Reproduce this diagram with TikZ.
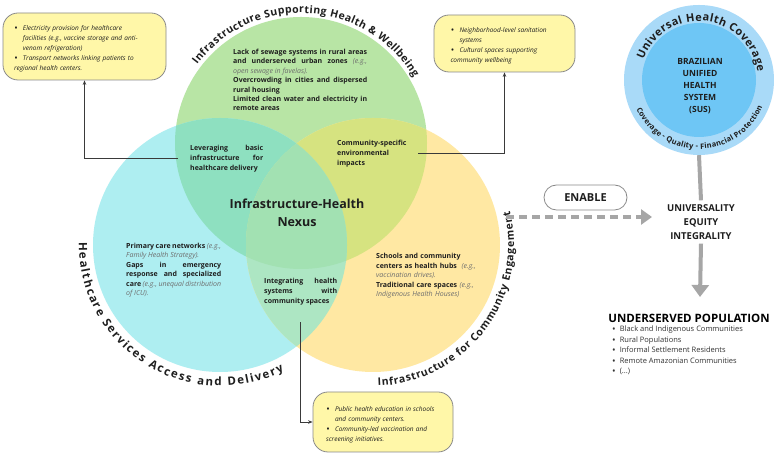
\documentclass[tikz,border=0pt]{standalone}
\usepackage{fontspec}
\setmainfont{Open Sans}
\usetikzlibrary{decorations.text,calc,arrows.meta}
\definecolor{cgreen}{HTML}{B8E5A5}
\definecolor{ccyan}{HTML}{AEEEF1}
\definecolor{cyellow}{HTML}{FFE8A3}
\definecolor{cgc}{HTML}{8EE0C0}
\definecolor{cgy}{HTML}{D6E380}
\definecolor{ccy}{HTML}{ADE6C3}
\definecolor{ctri}{HTML}{A2E1B2}
\definecolor{txt}{HTML}{1E1E1E}
\definecolor{egray}{HTML}{6E6E6E}
\definecolor{boxfill}{HTML}{FFF7A8}
\definecolor{boxline}{HTML}{8A8A8A}
\definecolor{connc}{HTML}{3A3A3A}
\definecolor{garr}{HTML}{A6A6A6}
\definecolor{uhcout}{HTML}{A9DAF8}
\definecolor{uhcin}{HTML}{6EC6F5}
\newcommand\eg[1]{{\mdseries\itshape\color{egray}#1}}
\newcommand\bigbul{\raisebox{-1.1pt}{\fontsize{9.5}{9.5}\selectfont\textbullet}}
\newcommand\bitem[1]{\par\hangindent=9pt\hangafter=1\noindent\makebox[9pt][l]{\bigbul}#1}
\begin{document}
\begin{tikzpicture}[x=1pt,y=1pt,
  box/.style={draw=boxline, fill=boxfill, rounded corners=15pt, line width=0.8pt, align=left,
    font=\itshape\fontsize{6.5}{10}\selectfont, text=txt, inner sep=0pt},
  conn/.style={draw=connc, line width=0.8pt, -{Stealth[length=4.5pt,width=3.5pt]}},
  body/.style={inner sep=0pt, anchor=north west, font=\bfseries\fontsize{7}{9.4}\selectfont, text=txt},
  arclabel/.style={decorate, decoration={text along path, text color=txt, text align={fit to path}}},
  garrow/.style={draw=garr, line width=4pt},
]
\useasboundingbox (0,0) rectangle (774,454);
\fill[white] (0,0) rectangle (774,454);

% ---------- Venn circles ----------
\coordinate (gc) at (301,311);
\coordinate (cc) at (220,209);
\coordinate (yc) at (373,209);
\fill[cgreen] (gc) circle[radius=126pt];
\fill[ccyan] (cc) circle[radius=127pt];
\fill[cyellow] (yc) circle[radius=127pt];
\begin{scope}
  \clip (gc) circle[radius=126pt];
  \fill[cgc] (cc) circle[radius=127pt];
  \fill[cgy] (yc) circle[radius=127pt];
\end{scope}
\begin{scope}
  \clip (cc) circle[radius=127pt];
  \fill[ccy] (yc) circle[radius=127pt];
  \clip (gc) circle[radius=126pt];
  \fill[ctri] (yc) circle[radius=127pt];
\end{scope}

% ---------- arc labels ----------
\path[arclabel, decoration={text={|\bfseries\fontsize{10.5}{12}\selectfont|Infrastructure Supporting Health {\&} Wellbeing}}]
  ($(gc)+(143:130pt)$) arc[start angle=143, end angle=30, radius=130pt];
\path[arclabel, decoration={text={|\bfseries\fontsize{11.5}{13}\selectfont|Healthcare Services Access and Delivery}}]
  ($(cc)+(179:141pt)$) arc[start angle=179, end angle=297, radius=141pt];
\path[arclabel, decoration={text={|\bfseries\fontsize{10.5}{12}\selectfont|Infrastructure for Community Engagement}}]
  ($(yc)+(-88:141pt)$) arc[start angle=-88, end angle=14, radius=141pt];

% ---------- Venn texts ----------
\node[body, text width=134pt, align=justify, font=\bfseries\fontsize{7}{9.4}\selectfont] (tg) at (233,405)
 {Lack of sewage systems in rural areas\linebreak and underserved urban zones \eg{(e.g.,\linebreak open sewage in favelas).}\par
  Overcrowding in cities and dispersed\linebreak rural housing\par
  Limited clean water and electricity in\linebreak remote areas};
\node[body, text width=73pt, align=justify, font=\bfseries\fontsize{7}{10}\selectfont] (t1) at (190,309)
 {Leveraging basic\linebreak infrastructure for\linebreak healthcare delivery};
\node[body, text width=80pt, align=left, font=\bfseries\fontsize{7}{10}\selectfont] (t2) at (337,314)
 {Community-specific\\ environmental\\ impacts};
\node[body, align=center, anchor=center, font=\bfseries\fontsize{12.5}{18}\selectfont] (nexus) at (297,241)
 {Infrastructure-Health\\ Nexus};
\node[body, text width=95pt, align=justify, font=\bfseries\fontsize{7}{9.4}\selectfont] (tc) at (126,211)
 {Primary care networks \eg{(e.g.,\linebreak Family Health Strategy).}\par
  Gaps in emergency\linebreak response and specialized\linebreak care \eg{(e.g., unequal distribution\linebreak of ICU).}};
\node[body, text width=73pt, align=justify, font=\bfseries\fontsize{7}{10}\selectfont] (t3) at (264,176)
 {Integrating health\linebreak systems with\linebreak community spaces};
\node[body, text width=100pt, align=left, font=\bfseries\fontsize{7}{9.6}\selectfont] (ty) at (376,201)
 {Schools and community\\ centers as health hubs\ \ \eg{(e.g.,}\\ \eg{vaccination drives).}\\ Traditional care spaces \eg{(e.g.,}\\ \eg{Indigenous Health Houses)}};

% ---------- yellow boxes ----------
\node[box, minimum width=163pt, minimum height=67pt, text width=141pt] (b1) at (84.5,407.5)
 {\bitem{Electricity provision for healthcare\newline facilities (e.g., vaccine storage and anti-\newline venom refrigeration)}%
  \bitem{Transport networks linking patients to\newline regional health centers.}};
\node[box, minimum width=141pt, minimum height=57pt, text width=108pt] (b2) at (504.5,410.5)
 {\bitem{Neighborhood-level sanitation\newline systems}%
  \bitem{Cultural spaces supporting\newline community wellbeing}};
\node[box, minimum width=140pt, minimum height=60pt, text width=114pt] (b3) at (383,32)
 {\bitem{Public health education in schools\newline and community centers.}%
  \bitem{Community-led vaccination and\newline screening initiatives.}};

\draw[conn] ([xshift=-12pt]t1.west) -| (b1.south);
\draw[conn] ([xshift=1pt]t2.east) -| (b2.south);
\draw[conn] ([yshift=-17pt]t3.south) |- (b3.west);

% ---------- UHC ----------
\coordinate (uc) at (699,374);
\node[circle, fill=uhcout, minimum size=150pt, inner sep=0pt] (uhc) at (uc) {};
\node[circle, fill=uhcin, minimum size=114pt, inner sep=0pt] (sus) at (uc) {};
\node[align=center, font=\bfseries\fontsize{8.5}{12}\selectfont, text=txt] (susT) at (700,368)
 {BRAZILIAN\\ UNIFIED\\ HEALTH\\ SYSTEM\\ (SUS)};
\path[arclabel, decoration={text={|\bfseries\fontsize{11}{12}\selectfont|Universal Health Coverage}}]
  ($(uc)+(160:59pt)$) arc[start angle=160, end angle=8, radius=59pt];
\path[arclabel, decoration={text={|\bfseries\fontsize{7.5}{9}\selectfont|Coverage - Quality - Financial Protection}}]
  ($(uc)+(205:69pt)$) arc[start angle=205, end angle=337, radius=69pt];

\node[align=center, font=\bfseries\fontsize{9.5}{14}\selectfont, text=txt, inner sep=4pt] (univ) at (701,232)
 {UNIVERSALITY\\ EQUITY\\ INTEGRALITY};
\draw[garrow] (uhc.south) -- (univ.north);
\coordinate (tip) at (700,157);
\draw[garrow, -{Triangle[length=12pt,width=17pt]}] (univ.south) -- (tip);

\node[draw=boxline, line width=0.8pt, fill=white, rounded corners=12.5pt, minimum width=83pt, minimum height=25pt,
  font=\bfseries\fontsize{11}{12}\selectfont, text=txt] (enable) at (585.5,256.5) {ENABLE};
\coordinate (dstart) at (506,237);
\coordinate (dend) at (652,237);
\draw[draw=garr, line width=4pt, dash pattern=on 8pt off 5pt, -{Triangle[length=11pt,width=15pt]}] (dstart) -- (dend);

\node[font=\bfseries\fontsize{11.5}{13}\selectfont, text=black, inner sep=0pt] (under) at (689,136) {UNDERSERVED POPULATION};
\node[anchor=north west, inner sep=0pt, align=left, font=\fontsize{7.5}{10.5}\selectfont, text=black!80] (list) at (612,128)
 {\bigbul\hspace{4pt}Black and Indigenous Communities\\
  \bigbul\hspace{4pt}Rural Populations\\
  \bigbul\hspace{4pt}Informal Settlement Residents\\
  \bigbul\hspace{4pt}Remote Amazonian Communities\\
  \bigbul\hspace{4pt}(...)};
\end{tikzpicture}
\end{document}
